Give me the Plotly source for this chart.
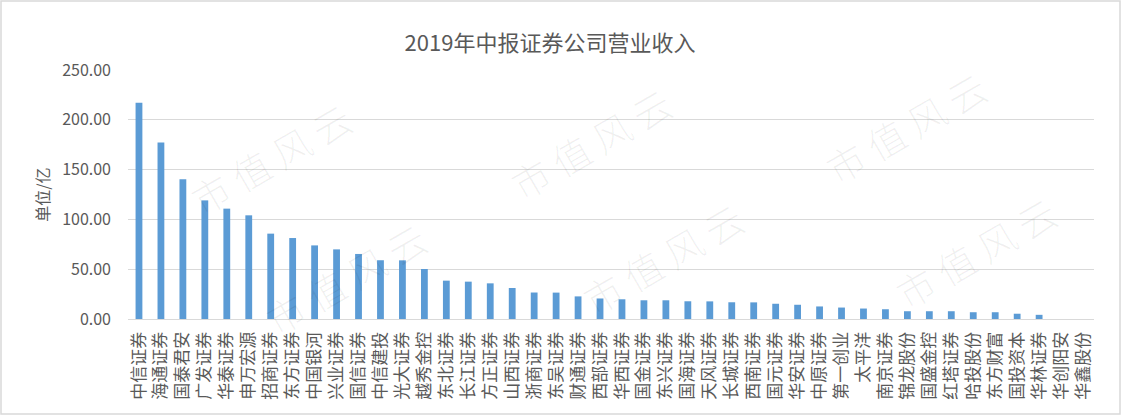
import plotly.graph_objects as go

categories = ["中信证券", "海通证券", "国泰君安", "广发证券", "华泰证券", "申万宏源", "招商证券", "东方证券",
              "中国银河", "兴业证券", "国信证券", "中信建投", "光大证券", "越秀金控", "东北证券", "长江证券",
              "方正证券", "山西证券", "浙商证券", "东吴证券", "财通证券", "西部证券", "华西证券", "国金证券",
              "东兴证券", "国海证券", "天风证券", "长城证券", "西南证券", "国元证券", "华安证券", "中原证券",
              "第一创业", "太平洋", "南京证券", "锦龙股份", "国盛金控", "红塔证券", "哈投股份", "东方财富",
              "国投资本", "华林证券", "华创阳安", "华鑫股份"]
revenue = [217.2, 177.3, 140.2, 119.1, 110.8, 104.1, 85.7, 81.3,
           73.9, 69.9, 65.3, 59.0, 58.9, 50.2, 38.5, 37.5,
           35.8, 31.1, 26.6, 26.5, 22.7, 20.6, 19.8, 18.8,
           18.8, 17.8, 17.7, 16.8, 16.7, 15.3, 14.3, 12.6,
           11.5, 10.5, 9.8, 7.8, 7.8, 7.8, 6.8, 6.8,
           5.3, 4.2, 0, 0]
y_ticks = [0, 50, 100, 150, 200, 250]

title_text = "2019年中报证券公司营业收入"
y_title = "单位/亿"
watermark = "市 值 风 云"
# watermark centres (pixel positions of the tiled background text, interior ones only)
wm_px = [(270, 158), (590, 143), (905, 127),
         (345, 278), (662, 258), (975, 252)]

W, H = 1123, 416
L, R, T, B = 128, 29, 70, 97
PW, PH = W - L - R, H - T - B

FONT = "Microsoft YaHei, Noto Sans CJK SC, sans-serif"
GREY = "#595959"

fig = go.Figure(go.Bar(x=categories, y=revenue, marker_color="#5B9BD5",
                       marker_line_width=0))


def px_to_paper(px, py):
    return (px - L) / PW, (H - B - py) / PH


annotations = []
for (cx, cy) in wm_px:
    xx, yy = px_to_paper(cx, cy)
    annotations.append(dict(text=watermark, x=xx, y=yy, xref="paper", yref="paper",
                            xanchor="center", yanchor="middle",
                            showarrow=False, textangle=-30,
                            font=dict(family="Noto Sans CJK SC", size=38, weight=300,
                                      color="rgba(0,0,0,0.06)")))

x0, y0 = px_to_paper(1, 1)
x1, y1 = px_to_paper(1120, 414)

fig.update_layout(
    width=W, height=H,
    margin=dict(l=L, r=R, t=T, b=B),
    paper_bgcolor="white", plot_bgcolor="white",
    bargap=0.69,
    showlegend=False,
    font=dict(family=FONT, color=GREY, size=16),
    title=dict(text=title_text, x=550 / W, xref="container", xanchor="center",
               y=1 - 43 / H, yref="container", yanchor="middle",
               font=dict(family=FONT, size=22, color=GREY)),
    xaxis=dict(tickangle=-90, tickfont=dict(size=17, color=GREY), showgrid=False,
               showline=True, linecolor="#D9D9D9", linewidth=1, ticks="",
               ticklabelstandoff=5),
    yaxis=dict(range=[0, 250], tickvals=y_ticks, tickformat=".2f",
               tickfont=dict(size=16, color=GREY), showgrid=True, gridcolor="#D9D9D9",
               gridwidth=1, zeroline=False, ticks="", ticklabelstandoff=16,
               title=dict(text=y_title, font=dict(size=16, color=GREY), standoff=8)),
    annotations=annotations,
    shapes=[dict(type="rect", xref="paper", yref="paper", x0=x0, y0=y0, x1=x1, y1=y1,
                 line=dict(color="#D9D9D9", width=1.5), layer="below")],
)

fig.write_html("out.html")
